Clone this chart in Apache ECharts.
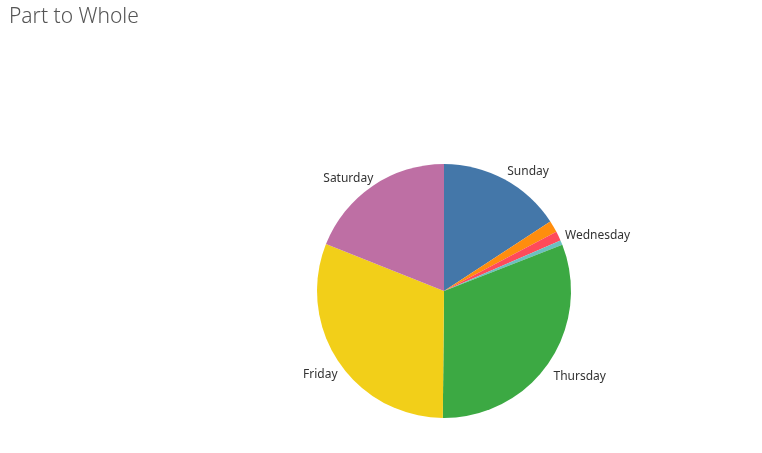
<!DOCTYPE html>
<html>
<head>
<meta charset="utf-8">
<script src="https://cdn.jsdelivr.net/npm/echarts@6/dist/echarts.min.js"></script>
<style>
  html, body { margin: 0; padding: 0; background: #fff; }
  #chart { width: 762px; height: 453px; }
</style>
</head>
<body>
<div id="chart"></div>
<script>
// share of records per weekday
const days = ['Sunday', 'Monday', 'Tuesday', 'Wednesday', 'Thursday', 'Friday', 'Saturday'];
const shares = [15.8, 1.5, 1.2, 0.6, 31.1, 30.9, 19.0];
const colors = ['#4477a9', '#ff8d0d', '#ff4a5a', '#6cc0c0', '#3ca943', '#f2cf19', '#be6fa4'];
// Tableau hides labels that would collide
const hiddenLabels = ['Monday', 'Tuesday'];
// small nudges so labels sit like Tableau's
const labelNudge = { Sunday: [-7, -2], Wednesday: [-9, -5], Thursday: [-7, 10], Friday: [11, 9], Saturday: [11, -2] };

var myChart = echarts.init(document.getElementById('chart'));

const pieData = days.map((d, i) => ({
    name: d,
    value: shares[i],
    itemStyle: { color: colors[i] },
    label: { show: hiddenLabels.indexOf(d) < 0 }
}));

var option = {
    animation: false,
    title: {
        text: 'Part to Whole',
        left: 4,
        top: 2,
        textStyle: {
            fontFamily: 'Noto Sans',
            fontWeight: 300,
            fontSize: 21,
            color: '#555'
        }
    },
    series: [{
        type: 'pie',
        center: [444, 291],
        radius: 127,
        startAngle: 90,
        clockwise: true,
        data: pieData,
        itemStyle: { borderWidth: 0 },
        label: {
            position: 'outside',
            fontFamily: 'Noto Sans',
            fontSize: 12,
            color: '#333',
            formatter: '{b}'
        },
        labelLine: { show: false, length: 6, length2: 2 },
        labelLayout: function (params) {
            const n = labelNudge[days[params.dataIndex]] || [0, 0];
            return { dx: n[0], dy: n[1] };
        },
        emphasis: { disabled: true }
    }]
};

myChart.setOption(option);
</script>
</body>
</html>
